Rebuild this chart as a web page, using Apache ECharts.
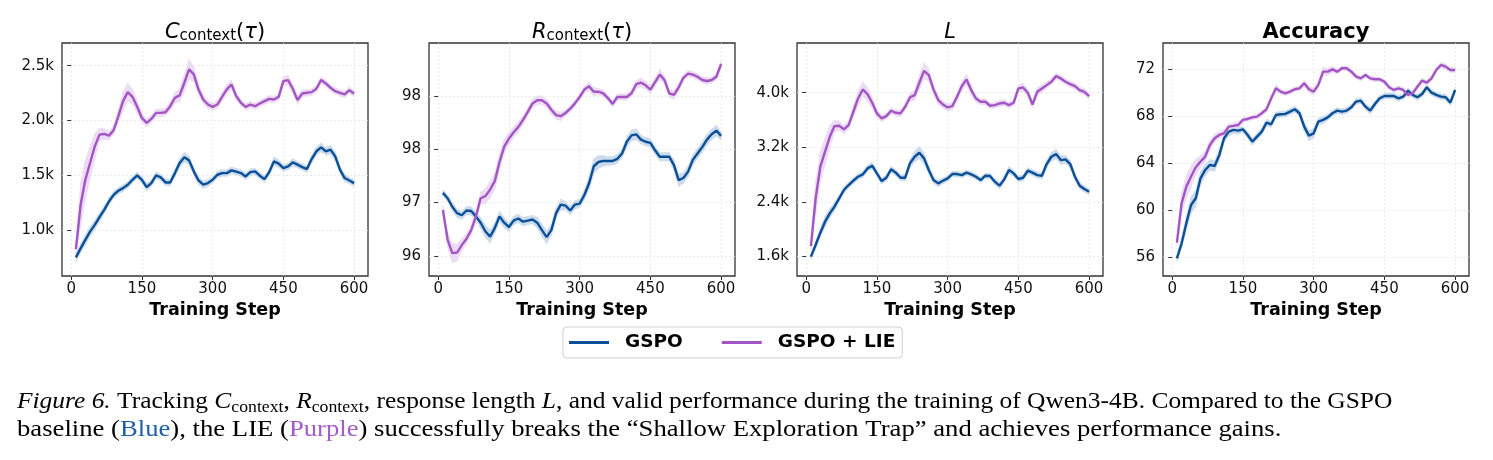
<!DOCTYPE html>
<html>
<head>
<meta charset="utf-8">
<script src="https://cdn.jsdelivr.net/npm/echarts@6/dist/echarts.min.js"></script>
<style>
html, body { margin: 0; padding: 0; background: #fff; }
#chart { width: 1493px; height: 460px; }
</style>
</head>
<body>
<div id="chart"></div>
<script>
// training steps (x)
var steps = [10,20,30,40,50,60,70,80,90,100,110,120,130,140,150,160,170,180,190,200,
  210,220,230,240,250,260,270,280,290,300,310,320,330,340,350,360,370,380,390,400,
  410,420,430,440,450,460,470,480,490,500,510,520,530,540,550,560,570,580,590,600];

// C_context(tau)
var ctxGspo = [753,835,912,988,1049,1119,1186,1262,1323,1360,1384,1415,1460,1500,1460,1393,1430,1500,1482,1436,
  1436,1521,1613,1665,1637,1537,1454,1415,1430,1460,1506,1521,1521,1546,1534,1521,1491,1530,1537,1497,
  1466,1530,1628,1607,1567,1582,1619,1598,1576,1558,1649,1720,1756,1720,1735,1674,1552,1476,1454,1430];
var ctxLie = [829,1232,1460,1613,1765,1872,1878,1863,1912,2040,2177,2259,2216,2125,2024,1979,2015,2070,2070,2076,
  2131,2207,2229,2345,2466,2421,2284,2192,2146,2125,2146,2216,2284,2329,2223,2162,2125,2146,2131,2155,
  2177,2198,2192,2216,2360,2369,2290,2186,2247,2253,2259,2290,2369,2338,2299,2268,2253,2238,2277,2247];
var ctxGspoSd = [40,40,45,45,45,40,35,35,30,30,30,30,30,30,30,35,30,30,30,30,30,35,40,45,40,35,35,35,30,30,
  30,30,30,30,30,30,30,30,30,30,30,30,40,35,30,30,35,30,30,30,35,40,40,35,40,40,35,35,30,30];
var ctxLieSd = [60,200,180,150,120,60,50,40,40,60,90,80,70,60,40,35,35,35,35,35,40,50,60,80,90,70,50,40,35,35,
  35,40,45,40,35,30,30,30,30,30,30,30,30,30,40,45,40,40,35,30,30,30,30,30,30,30,30,30,30,30];

// R_context(tau)
var rGspo = [97.09,97.04,96.96,96.90,96.88,96.925,96.92,96.87,96.81,96.73,96.68,96.76,96.87,96.81,96.77,96.83,96.85,96.82,96.83,96.84,
  96.81,96.74,96.675,96.74,96.90,96.98,96.97,96.925,96.98,96.99,97.07,97.18,97.34,97.38,97.39,97.39,97.39,97.41,97.46,97.57,
  97.63,97.64,97.59,97.57,97.56,97.49,97.43,97.43,97.43,97.35,97.21,97.23,97.29,97.40,97.46,97.52,97.59,97.64,97.675,97.625];
var rLie = [96.93,96.65,96.525,96.53,96.60,96.66,96.74,96.87,97.04,97.06,97.12,97.20,97.38,97.525,97.60,97.66,97.71,97.775,97.85,97.93,
  97.96,97.96,97.93,97.87,97.82,97.81,97.84,97.88,97.93,97.99,98.06,98.09,98.04,98.04,98.025,97.98,97.925,97.99,97.99,97.99,
  98.025,98.11,98.125,98.10,98.06,98.13,98.20,98.15,98.025,98.01,98.08,98.17,98.21,98.20,98.18,98.15,98.14,98.15,98.18,98.30];
var rGspoSd = [.03,.03,.04,.04,.04,.04,.04,.04,.05,.06,.06,.05,.05,.05,.04,.04,.04,.04,.04,.04,.05,.06,.06,.05,.05,.05,.04,.04,.04,.04,
  .05,.06,.07,.06,.05,.04,.04,.04,.04,.05,.05,.05,.04,.04,.04,.04,.04,.04,.04,.05,.06,.05,.05,.05,.05,.05,.05,.05,.05,.04];
var rLieSd = [.04,.07,.09,.08,.06,.05,.05,.05,.06,.07,.08,.08,.08,.07,.06,.05,.05,.04,.04,.04,.04,.04,.04,.04,.04,.04,.03,.03,.03,.03,
  .03,.04,.04,.03,.03,.03,.03,.03,.03,.03,.03,.04,.04,.04,.04,.04,.05,.04,.04,.04,.04,.03,.03,.03,.03,.03,.03,.03,.03,.03];

// response length L
var lenGspo = [1595,1766,1947,2108,2230,2328,2450,2573,2646,2709,2768,2802,2890,2929,2817,2704,2753,2876,2827,2753,
  2753,2963,3061,3120,3037,2866,2719,2670,2709,2744,2807,2807,2792,2827,2802,2768,2719,2783,2778,2695,
  2636,2729,2866,2817,2734,2753,2856,2827,2792,2783,2954,3061,3100,3012,3022,2954,2768,2636,2587,2548];
var lenLie = [1751,2450,2915,3135,3354,3511,3516,3462,3525,3721,3916,4048,3980,3853,3697,3623,3657,3736,3706,3697,
  3794,3931,3965,4146,4322,4259,4048,3892,3828,3785,3804,3941,4097,4195,4039,3916,3868,3868,3809,3819,
  3843,3853,3819,3853,4063,4078,4000,3828,4014,4063,4112,4161,4244,4210,4161,4127,4097,4039,4014,3951];
var lenGspoSd = [40,60,70,80,70,60,50,45,45,45,45,45,45,50,45,45,45,45,45,45,50,60,80,90,80,60,50,50,45,45,
  40,40,40,40,40,40,40,40,40,45,50,45,50,45,45,45,45,45,45,45,55,65,70,65,60,55,50,50,45,45];
var lenLieSd = [60,250,220,200,170,90,70,60,60,80,110,110,100,80,60,50,45,45,45,50,55,60,80,110,120,90,70,60,55,55,
  55,60,70,80,70,55,45,45,45,45,45,45,45,45,50,60,55,50,60,55,50,45,45,45,45,45,45,45,45,45];

// accuracy
var accGspo = [55.9,57.19,58.9,60.45,61.02,62.72,63.43,63.86,63.77,64.71,66.13,66.69,66.84,66.78,66.89,66.41,65.84,66.27,66.69,67.46,
  67.32,68.11,68.17,68.20,68.40,68.60,68.26,67.12,66.35,66.55,67.55,67.69,67.91,68.26,68.48,68.40,68.48,68.77,69.25,69.33,
  68.82,68.48,69.05,69.53,69.73,69.73,69.73,69.53,69.67,70.18,69.82,69.62,69.90,70.47,70.01,69.82,69.67,69.62,69.16,70.24];
var accLie = [57.25,60.60,62.01,62.87,63.66,64.14,64.57,65.56,66.13,66.41,66.55,67.12,67.18,67.26,67.69,67.77,67.91,67.97,68.26,68.60,
  69.53,70.38,70.10,69.96,70.10,70.30,70.38,70.81,70.30,70.10,70.67,71.80,71.80,72.00,71.80,72.09,72.09,71.80,71.38,71.23,
  71.52,71.23,71.15,71.15,70.95,70.47,70.24,70.38,70.24,69.82,69.96,70.52,71.04,70.86,71.23,71.94,72.37,72.23,71.94,71.94];
var accGspoSd = [.25,.45,.6,.7,.7,.6,.5,.45,.45,.5,.4,.35,.3,.3,.25,.3,.3,.3,.3,.3,.25,.25,.25,.25,.25,.25,.3,.4,.45,.4,
  .3,.3,.25,.25,.25,.25,.25,.25,.25,.25,.25,.3,.25,.25,.25,.25,.25,.25,.25,.25,.25,.25,.25,.25,.25,.25,.25,.25,.25,.25];
var accLieSd = [.3,.9,1.0,.9,.7,.5,.45,.4,.35,.3,.3,.25,.25,.25,.2,.2,.2,.2,.2,.2,.25,.3,.25,.2,.2,.2,.2,.25,.3,.3,
  .3,.35,.3,.25,.2,.2,.2,.2,.2,.2,.2,.2,.2,.2,.2,.2,.2,.2,.2,.2,.2,.2,.2,.2,.2,.2,.25,.25,.2,.2];

// ticks
var xTicks = [0, 150, 300, 450, 600];
var ctxTicks = [1000, 1500, 2000, 2500];
var rTicks = [96.5, 97, 97.5, 98];
var rTickLabels = ['96', '97', '98', '98'];
var lenTicks = [1600, 2400, 3200, 4000];
var accTicks = [56, 60, 64, 68, 72];

var BLUE = '#0b4f96';
var PURPLE = '#a355c6';
var BLUE_BAND = '#cbdbed';
var PURPLE_BAND = '#ecdcf3';
var FONT = 'DejaVu Sans';

var chart = echarts.init(document.getElementById('chart'));

var grids = [], xAxes = [], yAxes = [], series = [];

function kFmt(v) { return (v / 1000).toFixed(1) + 'k'; }

// shaded band: one quad per step interval, positioned through the axes
function bandSeries(idx, vals, sd, col) {
  var data = [];
  for (var i = 0; i < steps.length - 1; i++) {
    data.push([steps[i], vals[i] - sd[i], vals[i] + sd[i],
      steps[i + 1], vals[i + 1] - sd[i + 1], vals[i + 1] + sd[i + 1]]);
  }
  return {
    type: 'custom', xAxisIndex: idx, yAxisIndex: idx, silent: true, clip: true,
    encode: { x: [0, 3], y: [1, 2, 4, 5] },
    data: data,
    renderItem: function (params, api) {
      var pts = [
        api.coord([api.value(0), api.value(2)]),
        api.coord([api.value(3), api.value(5)]),
        api.coord([api.value(3), api.value(4)]),
        api.coord([api.value(0), api.value(1)])
      ];
      return { type: 'polygon', shape: { points: pts },
        style: { fill: col, stroke: col, lineWidth: 0.6 } };
    }
  };
}

function addPanel(idx, left, ymin, ymax, yTicks, yFmt, gspo, gspoSd, lie, lieSd) {
  grids.push({ left: left, top: 43, width: 306, height: 233, show: true,
    borderColor: '#333', borderWidth: 1.3, containLabel: false });
  xAxes.push({
    type: 'value', gridIndex: idx, min: -19.5, max: 629.5,
    name: 'Training Step', nameLocation: 'middle', nameGap: 23,
    nameTextStyle: { fontFamily: FONT, fontWeight: 'bold', fontSize: 17.5, color: '#000' },
    axisLine: { show: false },
    axisTick: { show: true, length: 4, lineStyle: { color: '#333' }, customValues: xTicks },
    axisLabel: { show: true, margin: 6, fontFamily: FONT, fontSize: 15, color: '#111', customValues: xTicks },
    splitLine: { show: true, lineStyle: { color: '#e6e6e6', type: [2, 2], width: 0.8 } }
  });
  yAxes.push({
    type: 'value', gridIndex: idx, min: ymin, max: ymax,
    axisLine: { show: false },
    axisTick: { show: true, length: 4, lineStyle: { color: '#333' }, customValues: yTicks },
    axisLabel: { show: true, margin: 8, fontFamily: FONT, fontSize: 15, color: '#111',
      customValues: yTicks, formatter: yFmt },
    splitLine: { show: true, lineStyle: { color: '#e6e6e6', type: [2, 2], width: 0.8 } }
  });
  series.push(bandSeries(idx, gspo, gspoSd, BLUE_BAND));
  series.push(bandSeries(idx, lie, lieSd, PURPLE_BAND));
  series.push({
    name: 'GSPO', type: 'line', xAxisIndex: idx, yAxisIndex: idx, symbol: 'none', color: BLUE,
    lineStyle: { color: BLUE, width: 2.4 },
    data: steps.map(function (s, i) { return [s, gspo[i]]; })
  });
  series.push({
    name: 'GSPO + LIE', type: 'line', xAxisIndex: idx, yAxisIndex: idx, symbol: 'none', color: PURPLE,
    lineStyle: { color: PURPLE, width: 2.4 },
    data: steps.map(function (s, i) { return [s, lie[i]]; })
  });
}

addPanel(0, 62, 583, 2707, ctxTicks, kFmt, ctxGspo, ctxGspoSd, ctxLie, ctxLieSd);
addPanel(1, 429, 96.31, 98.497, rTicks, function (v) {
  var i = rTicks.indexOf(v); return i >= 0 ? rTickLabels[i] : '';
}, rGspo, rGspoSd, rLie, rLieSd);
addPanel(2, 797, 1311, 4730, lenTicks, kFmt, lenGspo, lenGspoSd, lenLie, lenLieSd);
addPanel(3, 1163, 54.4, 74.24, accTicks, function (v) { return String(v); }, accGspo, accGspoSd, accLie, accLieSd);

var titleRich = {
  i: { fontFamily: FONT, fontStyle: 'italic', fontSize: 21, fill: '#000' },
  n: { fontFamily: FONT, fontSize: 21, fill: '#000' },
  s: { fontFamily: FONT, fontSize: 15, fill: '#000', verticalAlign: 'bottom', lineHeight: 14 },
  b: { fontFamily: FONT, fontWeight: 'bold', fontSize: 21, fill: '#000' }
};

function titleText(x, txt) {
  return { type: 'text', x: x, y: 33, silent: true,
    style: { text: txt, rich: titleRich, align: 'center', verticalAlign: 'middle', font: '21px ' + FONT } };
}

var SERIF = 'Liberation Serif';
var capRich = {
  t: { fontFamily: SERIF, fontSize: 23, fill: '#000', lineHeight: 27 },
  it: { fontFamily: SERIF, fontStyle: 'italic', fontSize: 23, fill: '#000', lineHeight: 27 },
  sub: { fontFamily: SERIF, fontSize: 16, fill: '#000', verticalAlign: 'bottom', lineHeight: 14 },
  blue: { fontFamily: SERIF, fontSize: 23, fill: '#1f5fa8', lineHeight: 27 },
  purple: { fontFamily: SERIF, fontSize: 23, fill: '#a35cc8', lineHeight: 27 }
};

var option = {
  animation: false,
  backgroundColor: '#fff',
  grid: grids,
  xAxis: xAxes,
  yAxis: yAxes,
  series: series,
  legend: {
    data: ['GSPO', 'GSPO + LIE'], left: 563, top: 327, icon: 'rect',
    itemWidth: 40, itemHeight: 3, itemGap: 39, padding: [6, 7, 6, 6],
    borderColor: '#d0d0d0', borderWidth: 1, borderRadius: 4,
    textStyle: { fontFamily: FONT, fontWeight: 'bold', fontSize: 18.5, color: '#000', padding: [0, 0, 0, 11] }
  },
  graphic: [
    titleText(215, '{i|C}{s|context}{n|(}{i|τ}{n|)}'),
    titleText(582, '{i|R}{s|context}{n|(}{i|τ}{n|)}'),
    titleText(950, '{i|L}'),
    titleText(1316, '{b|Accuracy}'),
    { type: 'text', x: 17, y: 402, scaleX: 1.106, silent: true,
      style: { text: '{it|Figure 6.}{t| Tracking }{it|C}{sub|context}{t|, }{it|R}{sub|context}{t|, response length }{it|L}{t|, and valid performance during the training of Qwen3-4B. Compared to the GSPO}',
        rich: capRich, align: 'left', verticalAlign: 'middle', font: '23px ' + SERIF } },
    { type: 'text', x: 17, y: 430, scaleX: 1.16, silent: true,
      style: { text: '{t|baseline (}{blue|Blue}{t|), the LIE (}{purple|Purple}{t|) successfully breaks the “Shallow Exploration Trap” and achieves performance gains.}',
        rich: capRich, align: 'left', verticalAlign: 'middle', font: '23px ' + SERIF } }
  ]
};

chart.setOption(option);
</script>
</body>
</html>
